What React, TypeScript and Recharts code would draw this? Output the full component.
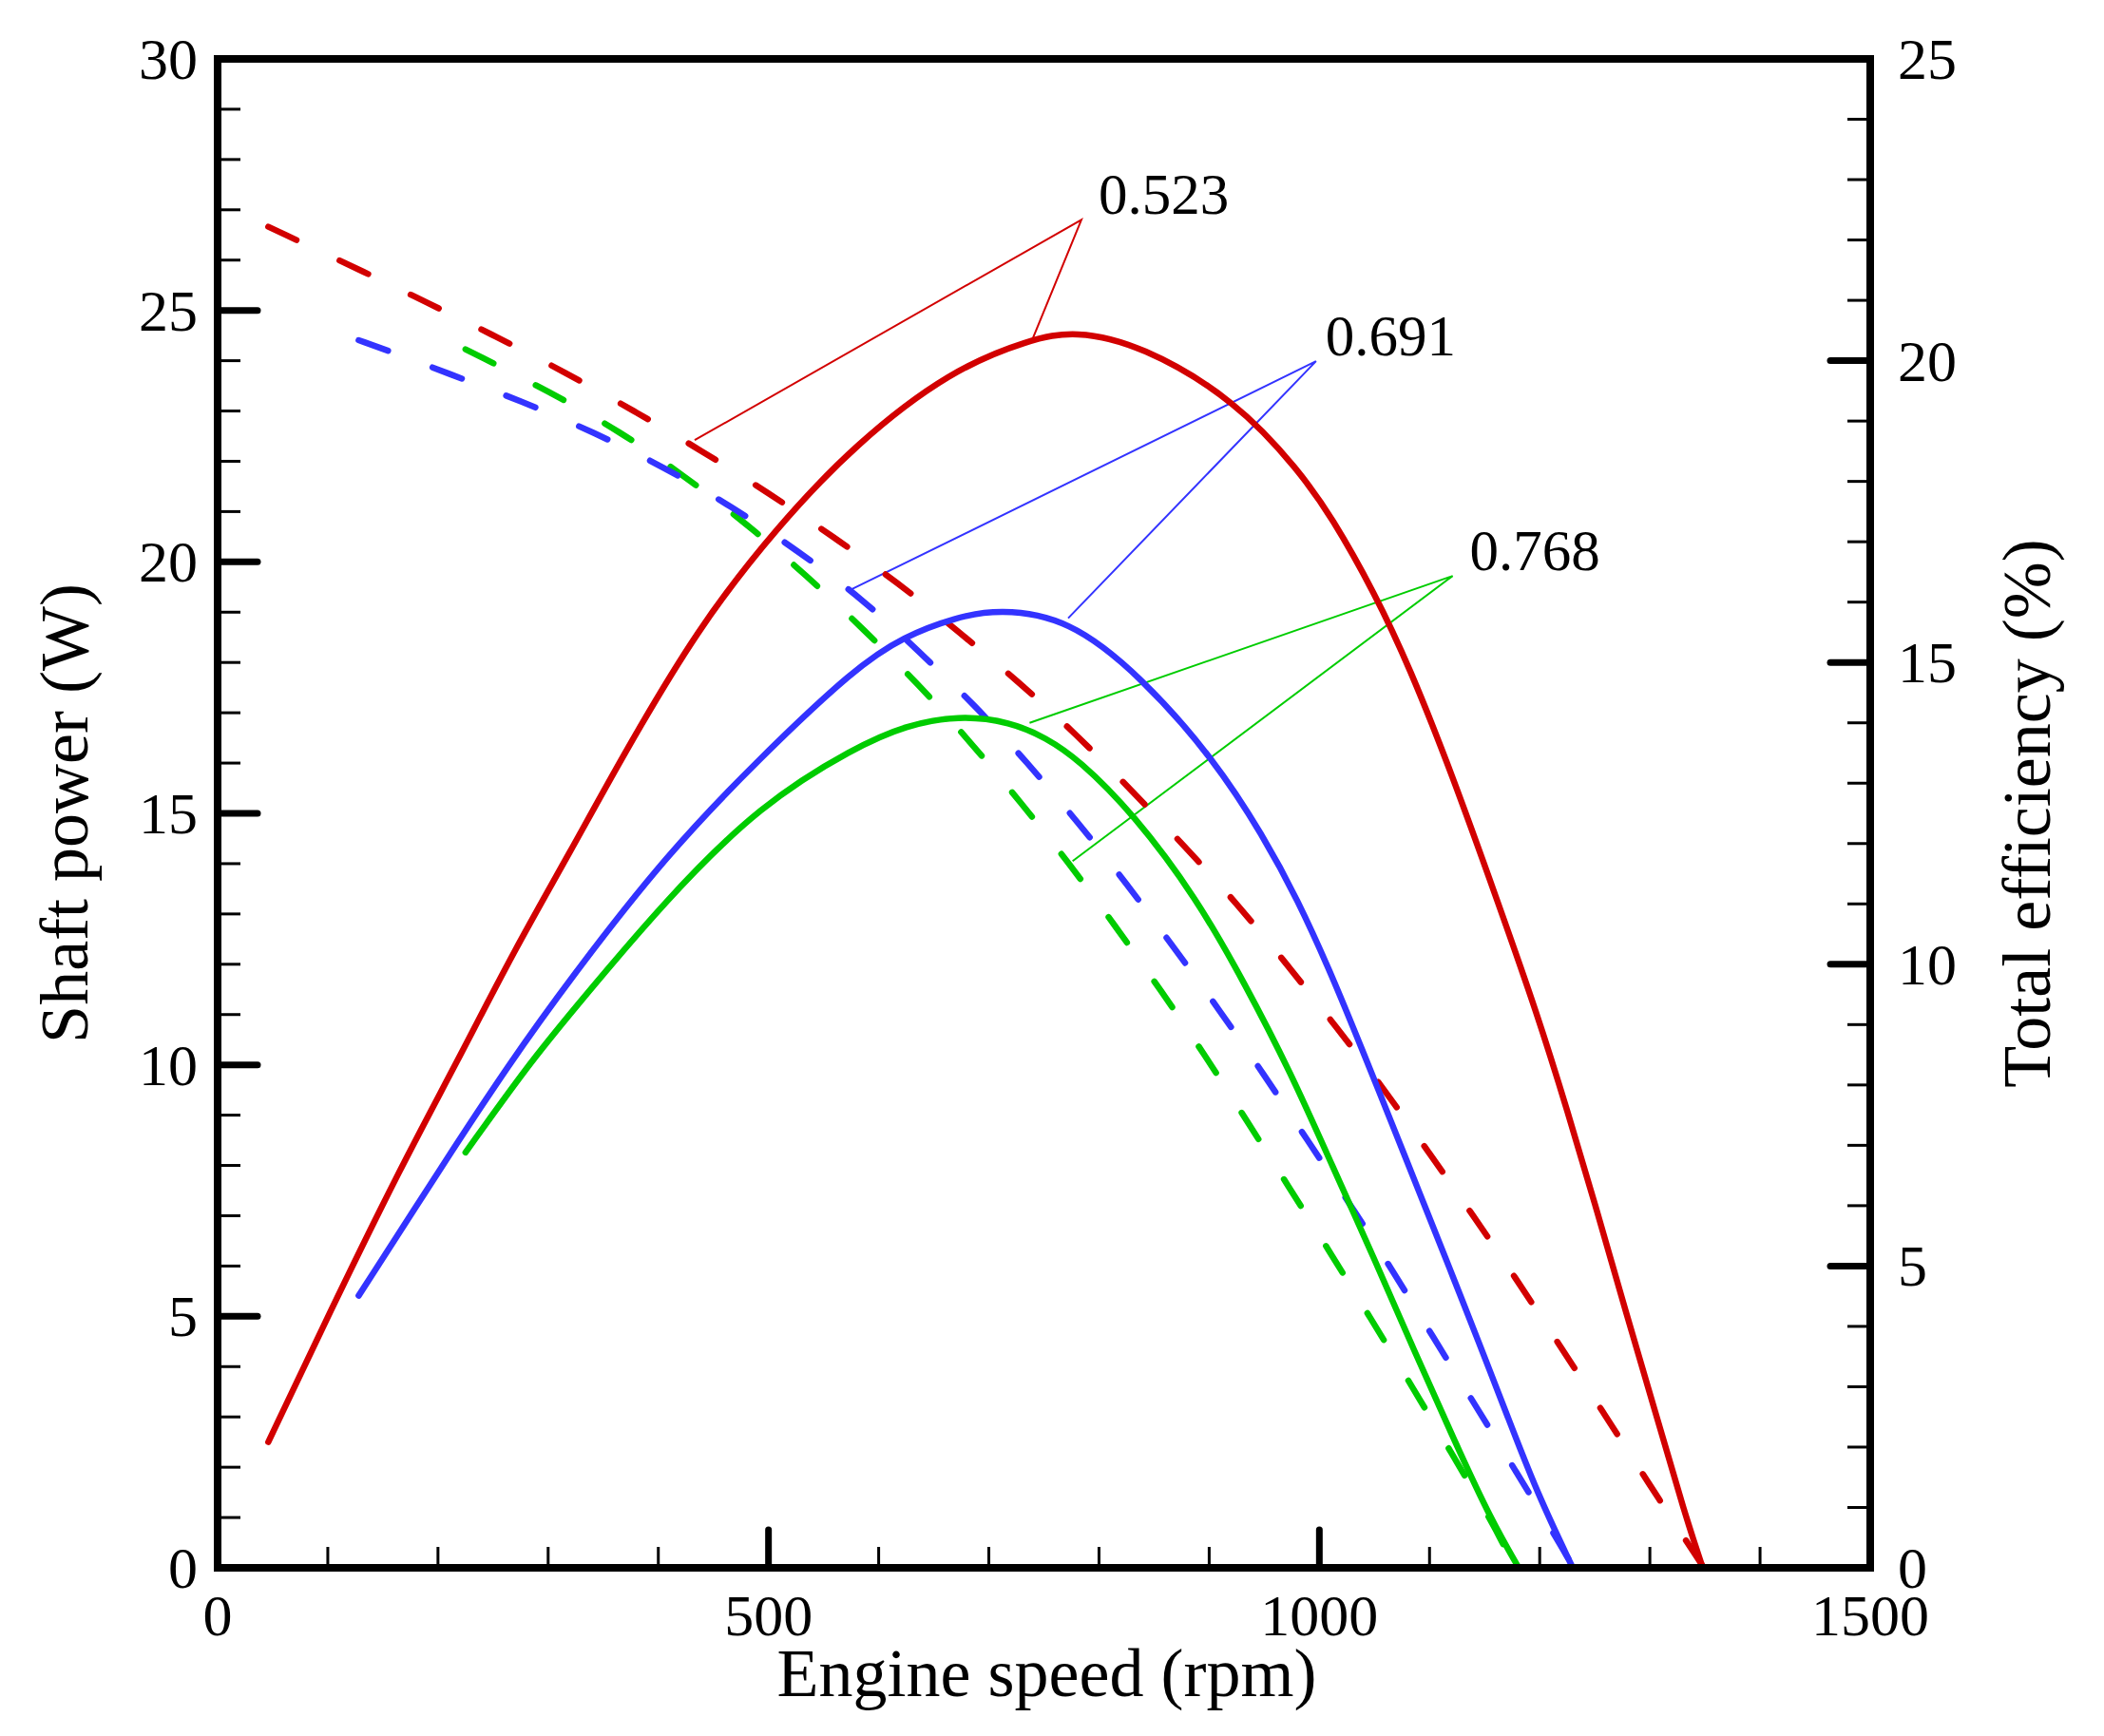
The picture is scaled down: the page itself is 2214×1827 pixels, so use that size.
import React from "react";
import { LineChart, Line, XAxis, YAxis, ReferenceLine } from "recharts";

// axis ticks
const speedTicks = [0, 100, 200, 300, 400, 500, 600, 700, 800, 900, 1000, 1100, 1200, 1300, 1400, 1500];
const powerTicks = [0, 1, 2, 3, 4, 5, 6, 7, 8, 9, 10, 11, 12, 13, 14, 15, 16, 17, 18, 19, 20, 21, 22, 23, 24, 25, 26, 27, 28, 29, 30];
const effTicks = [0, 1, 2, 3, 4, 5, 6, 7, 8, 9, 10, 11, 12, 13, 14, 15, 16, 17, 18, 19, 20, 21, 22, 23, 24, 25];

// shaft power (W) vs engine speed (rpm)
const redPower = [
  [46, 2.5], [100, 5.0], [167, 8.0], [216, 10.0], [269, 12.27], [320, 14.23], [364, 16.0],
  [436, 18.7], [508, 20.7], [579, 22.35], [666, 23.82], [737, 24.42], [778, 24.6], [838, 24.32],
  [925, 23.2], [982, 21.8], [1011, 20.9], [1050, 19.39], [1082, 17.9], [1120, 15.8],
  [1161, 13.3], [1198, 11.0], [1225, 9.1], [1252, 7.1], [1278, 5.1], [1305, 3.1], [1332, 1.05], [1348, 0],
];
const bluePower = [
  [128, 5.41], [207, 8.1], [264, 10.0], [320, 11.71], [407, 14.17], [493, 16.12], [579, 17.9],
  [623, 18.52], [670, 18.9], [709, 19.06], [772, 18.88], [838, 17.73], [905, 16.06], [949, 14.55],
  [980, 13.3], [1012, 11.75], [1038, 10.35], [1065, 8.88], [1091, 7.45], [1118, 5.97], [1145, 4.47],
  [1171, 3.0], [1198, 1.47], [1230, 0],
];
const greenPower = [
  [225, 8.26], [282, 10.0], [320, 11.02], [407, 13.29], [493, 15.18], [579, 16.32], [625, 16.75],
  [672, 16.95], [720, 16.82], [752, 16.5], [781, 16.08], [831, 15.0], [889, 13.3], [932, 11.63],
  [974, 9.85], [1012, 7.98], [1049, 6.19], [1086, 4.32], [1124, 2.46], [1156, 0.95], [1181, 0],
];

// total efficiency (%) vs engine speed (rpm)
const redEff = [
  [46, 22.22], [140, 21.41], [188, 20.98], [253, 20.4], [316, 19.8], [378, 19.17], [439, 18.51],
  [500, 17.81], [559, 17.08], [617, 16.33], [674, 15.49], [727, 14.68], [780, 13.8], [829, 12.89],
  [878, 11.95], [926, 10.99], [971, 9.99], [1015, 8.97], [1058, 7.95], [1099, 6.89], [1140, 5.83],
  [1180, 4.75], [1219, 3.66], [1258, 2.57], [1296, 1.48], [1349, 0],
];
const blueEff = [
  [128, 20.34], [159, 20.14], [209, 19.79], [276, 19.33], [342, 18.81], [406, 18.23], [467, 17.58],
  [526, 16.86], [587, 16.03], [636, 15.19], [687, 14.3], [735, 13.34], [781, 12.35], [825, 11.34],
  [867, 10.3], [909, 9.25], [949, 8.19], [989, 7.09], [1028, 6.02], [1066, 4.94], [1103, 3.83],
  [1141, 2.71], [1178, 1.61], [1215, 0.5], [1226, 0.15],
];
const greenEff = [
  [225, 20.19], [303, 19.47], [365, 18.83], [423, 18.1], [480, 17.3], [534, 16.45], [588, 15.52],
  [636, 14.64], [683, 13.69], [729, 12.68], [773, 11.67], [815, 10.63], [856, 9.57], [896, 8.5],
  [934, 7.41], [972, 6.32], [1010, 5.22], [1047, 4.12], [1084, 3.01], [1120, 1.9], [1156, 0.78],
  [1168, 0.35],
];

// leader lines: end on dashed curve -> label point -> end on solid curve (left axis units)
const redNote = [[433, 22.42], [784, 26.8], [740, 24.45]];
const blueNote = [[575, 19.45], [997, 23.99], [772, 18.88]];
const greenNote = [[737, 16.8], [1121, 19.72], [776, 14.05]];

const red = "#d20000";
const blue = "#3333ff";
const green = "#00cc00";
const black = "#000";
const serif = "'Liberation Serif', 'Times New Roman', serif";

const toPts = (rows: number[][]) => rows.map(([rpm, v]) => ({ rpm, v }));

const frame = { stroke: black, strokeWidth: 8, strokeLinecap: "square" as const };

function BottomTick(props: any) {
  const { x, y, payload } = props;
  const major = payload.value % 500 === 0;
  return (
    <g>
      <line x1={x} y1={y} x2={x} y2={y - (major ? 40 : 22)} stroke={black}
        strokeWidth={major ? 7 : 3} strokeLinecap={major ? "round" : "butt"} />
      {major && (
        <text x={x} y={y + 71} textAnchor="middle" fontSize={62} fontFamily={serif} fill={black}>
          {payload.value}
        </text>
      )}
    </g>
  );
}

function LeftTick(props: any) {
  const { x, y, payload } = props;
  const major = payload.value % 5 === 0;
  return (
    <g>
      <line x1={x} y1={y} x2={x + (major ? 42 : 24)} y2={y} stroke={black}
        strokeWidth={major ? 7 : 3} strokeLinecap={major ? "round" : "butt"} />
      {major && (
        <text x={x - 21} y={y} dy="0.34em" textAnchor="end" fontSize={62} fontFamily={serif} fill={black}>
          {payload.value}
        </text>
      )}
    </g>
  );
}

function RightTick(props: any) {
  const { x, y, payload } = props;
  const major = payload.value % 5 === 0;
  return (
    <g>
      <line x1={x} y1={y} x2={x - (major ? 42 : 24)} y2={y} stroke={black}
        strokeWidth={major ? 7 : 3} strokeLinecap={major ? "round" : "butt"} />
      {major && (
        <text x={x + 29} y={y} dy="0.34em" textAnchor="start" fontSize={62} fontFamily={serif} fill={black}>
          {payload.value}
        </text>
      )}
    </g>
  );
}

const speedTitle = (props: any) => {
  const vb = props.viewBox;
  return (
    <text x={vb.x + vb.width / 2 + 3} y={vb.y + 135} textAnchor="middle" fontSize={72} fontFamily={serif} fill={black}>
      Engine speed (rpm)
    </text>
  );
};

const powerTitle = (props: any) => {
  const vb = props.viewBox;
  return (
    <text transform={`translate(${vb.x + 84},${vb.y + vb.height / 2}) rotate(-90)`} textAnchor="middle"
      fontSize={72} fontFamily={serif} fill={black}>
      Shaft power (W)
    </text>
  );
};

const effTitle = (props: any) => {
  const vb = props.viewBox;
  return (
    <text transform={`translate(${vb.x + 189},${vb.y + vb.height / 2}) rotate(-90)`} textAnchor="middle"
      fontSize={72} fontFamily={serif} fill={black}>
      Total efficiency (%)
    </text>
  );
};

// text sits next to the middle point of each leader line
function NoteDot(props: any) {
  const { cx, cy, index, caption, dx } = props;
  if (index !== 1) return <g />;
  return (
    <text x={cx + dx} y={cy - 6} fontSize={61} fontFamily={serif} fill={black}>
      {caption}
    </text>
  );
}

export default function App() {
  const solid = { type: "basis" as const, strokeWidth: 6.5, strokeLinecap: "round" as const, dot: false, activeDot: false, isAnimationActive: false, dataKey: "v" };
  const dashed = { ...solid, strokeDasharray: "33 50" };
  const note = { type: "linear" as const, strokeWidth: 2, activeDot: false, isAnimationActive: false, yAxisId: "power", dataKey: "v" };

  return (
    <LineChart width={2206} height={1819} margin={{ top: 54, right: 0, bottom: 0, left: 0 }}>
      <XAxis type="number" dataKey="rpm" domain={[0, 1500]} ticks={speedTicks} interval={0}
        allowDataOverflow height={177} tickSize={0} tickMargin={0} tickLine={false}
        axisLine={frame} tick={<BottomTick />} label={speedTitle} />
      <YAxis yAxisId="power" orientation="left" type="number" domain={[0, 30]} ticks={powerTicks}
        interval={0} allowDataOverflow width={221} tickSize={0} tickMargin={0} tickLine={false}
        axisLine={frame} tick={<LeftTick />} label={powerTitle} />
      <YAxis yAxisId="eff" orientation="right" type="number" domain={[0, 25]} ticks={effTicks}
        interval={0} allowDataOverflow width={246} tickSize={0} tickMargin={0} tickLine={false}
        axisLine={frame} tick={<RightTick />} label={effTitle} />
      <ReferenceLine yAxisId="power" y={30} stroke={black} strokeWidth={8} strokeLinecap="square" ifOverflow="visible" />

      <Line {...note} data={toPts(redNote)} stroke={red} dot={<NoteDot caption="0.523" dx={18} />} />
      <Line {...note} data={toPts(blueNote)} stroke={blue} dot={<NoteDot caption="0.691" dx={10} />} />
      <Line {...note} data={toPts(greenNote)} stroke={green} dot={<NoteDot caption="0.768" dx={18} />} />

      <Line {...dashed} yAxisId="eff" data={toPts(greenEff)} stroke={green} />
      <Line {...dashed} yAxisId="eff" data={toPts(blueEff)} stroke={blue} />
      <Line {...dashed} yAxisId="eff" data={toPts(redEff)} stroke={red} />

      <Line {...solid} yAxisId="power" data={toPts(greenPower)} stroke={green} />
      <Line {...solid} yAxisId="power" data={toPts(bluePower)} stroke={blue} />
      <Line {...solid} yAxisId="power" data={toPts(redPower)} stroke={red} />
    </LineChart>
  );
}
